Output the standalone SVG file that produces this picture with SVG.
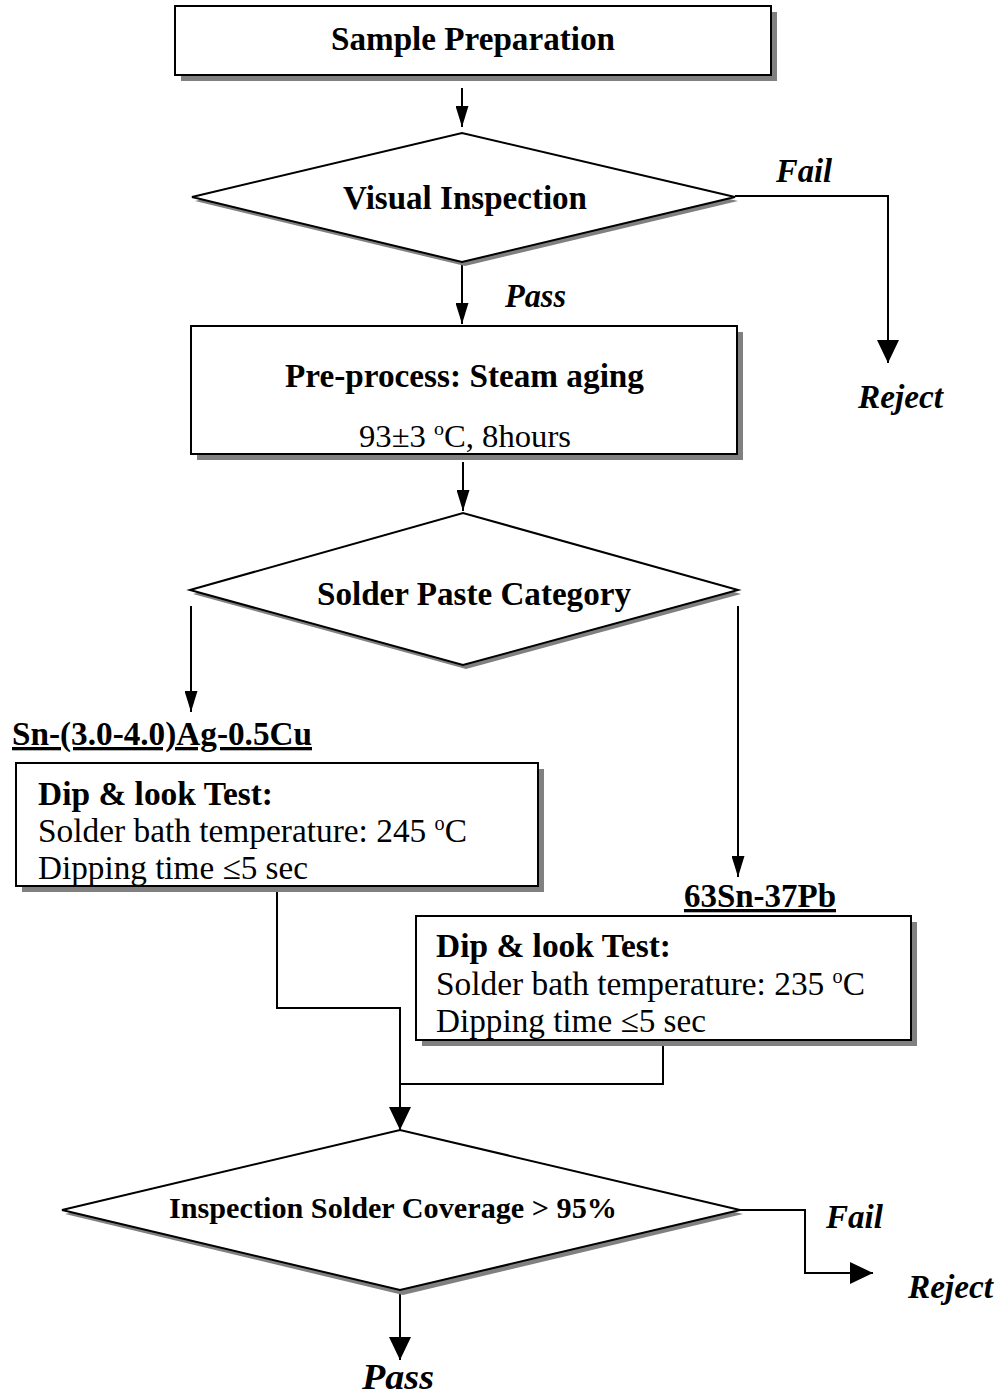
<svg xmlns="http://www.w3.org/2000/svg" width="1001" height="1397" viewBox="0 0 1001 1397">
<defs>
<marker id="ah" markerWidth="21" markerHeight="13" refX="21" refY="6.5" viewBox="0 0 21 13" orient="auto" markerUnits="userSpaceOnUse">
<path d="M0,0 L21,6.5 L0,13 Z" fill="#000"/>
</marker>
<marker id="ahw" markerWidth="23" markerHeight="22" refX="23" refY="11" viewBox="0 0 23 22" orient="auto" markerUnits="userSpaceOnUse">
<path d="M0,0 L23,11 L0,22 Z" fill="#000"/>
</marker>
<style>
.box{fill:#fff;stroke:#000;stroke-width:2}
.sh{fill:#808080}
.ln{fill:none;stroke:#000;stroke-width:2}
.t{font-family:"Liberation Serif","Times New Roman",serif;fill:#000;font-size:33px}
.b{font-weight:bold}
.i{font-style:italic;font-weight:bold}
.u{text-decoration:underline}
</style>
</defs>
<rect width="1001" height="1397" fill="#fff"/>

<g id="connectors">
<line class="ln" x1="462" y1="88" x2="462" y2="127" marker-end="url(#ah)"/>
<polyline class="ln" points="735,196 888,196 888,363" marker-end="url(#ahw)"/>
<line class="ln" x1="462" y1="262" x2="462" y2="324" marker-end="url(#ah)"/>
<line class="ln" x1="463" y1="462" x2="463" y2="511" marker-end="url(#ah)"/>
<line class="ln" x1="191" y1="606" x2="191" y2="712" marker-end="url(#ah)"/>
<line class="ln" x1="738" y1="606" x2="738" y2="877" marker-end="url(#ah)"/>
<polyline class="ln" points="277,887 277,1008 400,1008 400,1130" marker-end="url(#ahw)"/>
<polyline class="ln" points="663,1041 663,1084 400,1084"/>
<polyline class="ln" points="740,1210 805,1210 805,1273 873,1273" marker-end="url(#ahw)"/>
<line class="ln" x1="400" y1="1290" x2="400" y2="1360" marker-end="url(#ahw)"/>
<text class="t i" x="776" y="182" textLength="56" lengthAdjust="spacingAndGlyphs">Fail</text>
<text class="t i" x="858" y="408" textLength="85" lengthAdjust="spacingAndGlyphs">Reject</text>
<text class="t i" x="505" y="307" textLength="61" lengthAdjust="spacingAndGlyphs">Pass</text>
<text class="t i" x="826" y="1228" textLength="57" lengthAdjust="spacingAndGlyphs">Fail</text>
<text class="t i" x="908" y="1298" textLength="85" lengthAdjust="spacingAndGlyphs">Reject</text>
<text class="t i" x="362" y="1389" style="font-size:36px" textLength="72" lengthAdjust="spacingAndGlyphs">Pass</text>
</g>

<g id="sample-preparation">
<rect class="sh" x="181" y="12" width="596" height="69"/>
<rect class="box" x="175" y="6" width="596" height="69"/>
<text class="t b" x="331" y="50" textLength="284" lengthAdjust="spacingAndGlyphs">Sample Preparation</text>
</g>

<g id="visual-inspection">
<polygon class="sh" points="195,201 465,137 738,201 465,266"/>
<polygon class="box" points="192,197 462,133 735,197 462,262"/>
<text class="t b" x="343" y="209" textLength="244" lengthAdjust="spacingAndGlyphs">Visual Inspection</text>
</g>

<g id="pre-process">
<rect class="sh" x="197" y="332" width="546" height="128"/>
<rect class="box" x="191" y="326" width="546" height="128"/>
<text class="t b" x="285" y="387" textLength="359" lengthAdjust="spacingAndGlyphs">Pre-process: Steam aging</text>
<text class="t" x="359" y="447" style="font-size:31px" textLength="212" lengthAdjust="spacingAndGlyphs">93±3 <tspan style="font-size:19px" dy="-12">o</tspan><tspan dy="12">C, 8hours</tspan></text>
</g>

<g id="solder-paste-category">
<polygon class="sh" points="193,594 466,517 741,594 466,669"/>
<polygon class="box" points="190,590 463,513 738,590 463,665"/>
<text class="t b" x="317" y="605" textLength="314" lengthAdjust="spacingAndGlyphs">Solder Paste Category</text>
</g>

<g id="sac-test">
<text class="t b u" x="12" y="745" textLength="300" lengthAdjust="spacingAndGlyphs">Sn-(3.0-4.0)Ag-0.5Cu</text>
<rect class="sh" x="22" y="769" width="522" height="123"/>
<rect class="box" x="16" y="763" width="522" height="123"/>
<text class="t b" x="38" y="805" textLength="235" lengthAdjust="spacingAndGlyphs">Dip &amp; look Test:</text>
<text class="t" x="38" y="842" textLength="429" lengthAdjust="spacingAndGlyphs">Solder bath temperature: 245 <tspan style="font-size:20px" dy="-12">o</tspan><tspan dy="12">C</tspan></text>
<text class="t" x="38" y="879" textLength="270" lengthAdjust="spacingAndGlyphs">Dipping time ≤5 sec</text>
</g>

<g id="snpb-test">
<text class="t b u" x="684" y="907" textLength="152" lengthAdjust="spacingAndGlyphs">63Sn-37Pb</text>
<rect class="sh" x="422" y="922" width="495" height="124"/>
<rect class="box" x="416" y="916" width="495" height="124"/>
<text class="t b" x="436" y="957" textLength="235" lengthAdjust="spacingAndGlyphs">Dip &amp; look Test:</text>
<text class="t" x="436" y="995" textLength="429" lengthAdjust="spacingAndGlyphs">Solder bath temperature: 235 <tspan style="font-size:20px" dy="-12">o</tspan><tspan dy="12">C</tspan></text>
<text class="t" x="436" y="1032" textLength="270" lengthAdjust="spacingAndGlyphs">Dipping time ≤5 sec</text>
</g>

<g id="coverage-inspection">
<polygon class="sh" points="65,1214 403,1134 743,1214 403,1295"/>
<polygon class="box" points="62,1210 400,1130 740,1210 400,1290"/>
<text class="t b" x="169" y="1218" style="font-size:30px" textLength="448" lengthAdjust="spacingAndGlyphs">Inspection Solder Coverage &gt; 95%</text>
</g>
</svg>
